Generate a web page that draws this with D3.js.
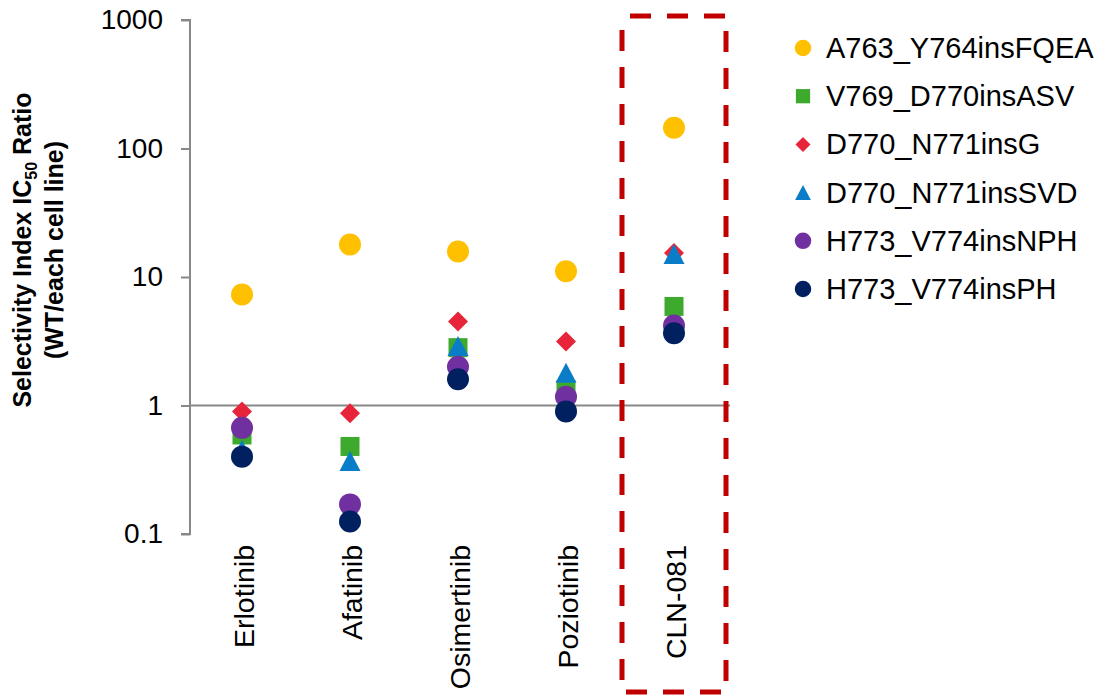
<!DOCTYPE html>
<html>
<head>
<meta charset="utf-8">
<style>
body { margin: 0; background: #fff; }
text { font-family: Arial, "Liberation Sans", sans-serif; }
</style>
</head>
<body>
<svg width="1101" height="696" id="chart"></svg>

<script src="https://d3js.org/d3.v7.min.js"></script>
<script>
// drugs on the x axis
var drugs = ["Erlotinib", "Afatinib", "Osimertinib", "Poziotinib", "CLN-081"];

// mutant cell lines (legend order)
var mutants = ["A763_Y764insFQEA", "V769_D770insASV", "D770_N771insG",
               "D770_N771insSVD", "H773_V774insNPH", "H773_V774insPH"];

// selectivity index per mutant, one value per drug
var fqea = [7.3, 17.9, 15.8, 11.1, 145];
var asv  = [0.59, 0.48, 2.82, 1.33, 5.9];
var insG = [0.90, 0.87, 4.5, 3.15, 15.4];
var svd  = [0.45, 0.37, 2.9, 1.8, 15.1];
var nph  = [0.67, 0.17, 2.0, 1.17, 4.2];
var ph   = [0.40, 0.125, 1.6, 0.90, 3.65];

var yTicks = [0.1, 1, 10, 100, 1000];

var seriesValues = [fqea, asv, insG, svd, nph, ph];
var colors = ["#FFC000", "#3DAA2E", "#E8243A", "#0A7DC8", "#7030A0", "#002060"];
var shapes = ["circle", "square", "diamond", "triangle", "circle", "circle"];

var svg = d3.select("#chart");

var x = d3.scaleBand().domain(drugs).range([190, 730]);
var y = d3.scaleLog().domain([0.1, 1000]).range([534, 20]);

// marker path centred on 0,0
function markerPath(shape, s) {
    var h = s / 2;
    if (shape == "circle") {
        var r = h * 1.1;
        return "M" + (-r) + ",0A" + r + "," + r + " 0 1,0 " + r + ",0A" + r + "," + r + " 0 1,0 " + (-r) + ",0Z";
    }
    if (shape == "square") { h = h * 0.95; return "M" + (-h) + "," + (-h) + "H" + h + "V" + h + "H" + (-h) + "Z"; }
    if (shape == "diamond") return "M0," + (-h) + "L" + h + ",0L0," + h + "L" + (-h) + ",0Z";
    return "M0," + (-h) + "L" + (h * 1.05) + "," + h + "L" + (-h * 1.05) + "," + h + "Z";
}

// y axis
var yAxis = svg.append("g")
    .attr("transform", "translate(190,0)")
    .call(d3.axisLeft(y).tickValues(yTicks).tickSize(9).tickPadding(18)
        .tickFormat(function(d) { return d3.format("~g")(d); }));
yAxis.selectAll("path, line").attr("stroke", "#888").attr("stroke-width", 2);
yAxis.select(".domain").attr("d", "M-9,534H0V20H-9");
yAxis.selectAll("text").attr("font-size", 28).attr("fill", "#000")
    .attr("font-family", "Arial, 'Liberation Sans', sans-serif");

// reference line at 1
svg.append("line")
    .attr("x1", 190).attr("x2", 730)
    .attr("y1", y(1)).attr("y2", y(1))
    .attr("stroke", "#888").attr("stroke-width", 2);

// y title
var title = svg.append("text")
    .attr("transform", "translate(31,250) rotate(-90)")
    .attr("text-anchor", "middle")
    .attr("font-size", 25).attr("font-weight", "bold");
title.append("tspan").text("Selectivity Index IC");
title.append("tspan").attr("font-size", 16).attr("dy", 6).text("50");
title.append("tspan").attr("dy", -6).text(" Ratio");
svg.append("text")
    .attr("transform", "translate(63,250) rotate(-90)")
    .attr("text-anchor", "middle")
    .attr("font-size", 25).attr("font-weight", "bold")
    .text("(WT/each cell line)");

// x labels
svg.selectAll(".xlab")
    .data(drugs)
    .enter().append("text")
    .attr("class", "xlab")
    .attr("transform", function(d) {
        return "translate(" + (x(d) + x.bandwidth() / 2 + 10) + ",545) rotate(-90)";
    })
    .attr("text-anchor", "end")
    .attr("font-size", 28.5)
    .text(function(d) { return d; });

// highlight box around CLN-081
svg.append("rect")
    .attr("x", 622).attr("y", 16)
    .attr("width", 104).attr("height", 676)
    .attr("fill", "none")
    .attr("stroke", "#C00000").attr("stroke-width", 5)
    .attr("stroke-dasharray", "21,16")
    .attr("stroke-dashoffset", -8);

// points
seriesValues.forEach(function(vals, si) {
    svg.append("g").selectAll("path")
        .data(vals)
        .enter().append("path")
        .attr("transform", function(d, i) {
            return "translate(" + (x(drugs[i]) + x.bandwidth() / 2 - 2) + "," + y(d) + ")";
        })
        .attr("d", markerPath(shapes[si], 20))
        .attr("fill", colors[si]);
});

// legend
var legend = svg.selectAll(".leg")
    .data(mutants)
    .enter().append("g")
    .attr("class", "leg")
    .attr("transform", function(d, i) { return "translate(803," + (48 + i * 48.2) + ")"; });
legend.append("path")
    .attr("d", function(d, i) { return markerPath(shapes[i], 15); })
    .attr("fill", function(d, i) { return colors[i]; });
legend.append("text")
    .attr("x", 23).attr("y", 10)
    .attr("font-size", 29)
    .text(function(d) { return d; });
</script>
</body>
</html>
